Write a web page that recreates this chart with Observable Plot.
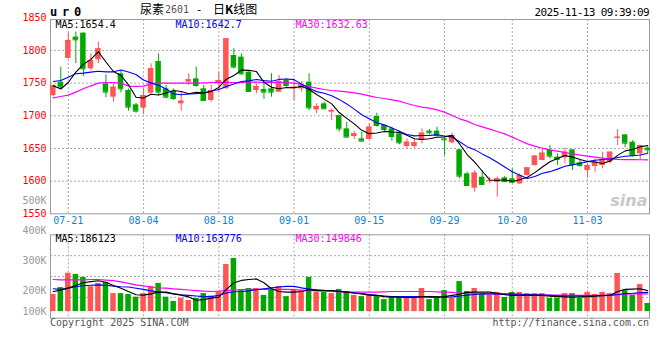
<!DOCTYPE html>
<html><head><meta charset="utf-8">
<script src="https://cdn.jsdelivr.net/npm/d3@7"></script>
<script src="https://cdn.jsdelivr.net/npm/@observablehq/plot@0.6"></script>
<style>
body{margin:0;background:#fff;}
#wrap{position:relative;width:660px;height:360px;overflow:hidden;background:#fff;font-family:"DejaVu Sans Mono",monospace;color:#000;}
.abs{position:absolute;white-space:nowrap;line-height:1;}
</style></head><body>
<div id="wrap">
  <div id="main" class="abs" style="left:0;top:0"></div>
  <div id="vol" class="abs" style="left:0;top:190px"></div>
  <div class="abs" style="left:50px;top:5.5px;font-weight:bold;font-size:12px;letter-spacing:4.8px">ur0</div>
  <div class="abs" style="left:140px;top:3px;font-family:'Noto Sans CJK SC';font-size:12px">尿素</div>
  <div class="abs" style="left:165px;top:5px;font-size:10px;color:#555">2601</div>
  <div class="abs" style="left:197px;top:3px;font-family:'Noto Sans CJK SC';font-size:12px">-</div>
  <div class="abs" style="left:213px;top:3px;font-family:'Noto Sans CJK SC';font-size:12px">日<b>K</b>线图</div>
  <div class="abs" style="right:11px;top:6.5px;font-size:11px;letter-spacing:-0.6px">2025-11-13 09:39:09</div>
  <div class="abs" style="left:50px;top:318px;font-size:10px;color:#555">Copyright 2025 SINA.COM</div>
  <div class="abs" style="right:11px;top:318px;font-size:10px;color:#555">http://finance.sina.com.cn</div>
</div>
<script>
// ---- data ----
const dates = ["07-17","07-18","07-21","07-22","07-23","07-24","07-25","07-28","07-29","07-30","07-31","08-01",
"08-04","08-05","08-06","08-07","08-08","08-11","08-12","08-13","08-14","08-15","08-18","08-19","08-20","08-21","08-22",
"08-25","08-26","08-27","08-28","08-29","09-01","09-02","09-03","09-04","09-05","09-08","09-09","09-10","09-11","09-12",
"09-15","09-16","09-17","09-18","09-19","09-22","09-23","09-24","09-25","09-26","09-29","09-30","10-09","10-10",
"10-13","10-14","10-15","10-16","10-17","10-20","10-21","10-22","10-23","10-24","10-27","10-28","10-29","10-30","10-31",
"11-03","11-04","11-05","11-06","11-07","11-10","11-11","11-12","11-13"];
const dateTicks = ["07-21","08-04","08-18","09-01","09-15","09-29","10-20","11-03"];
const open = [1731.1,1751.5,1787.7,1820.4,1826.5,1771.9,1785.7,1748.9,1728.5,1764.3,
1738.7,1716.8,1711.7,1734.7,1783.1,1741.3,1737.7,1718.3,1751.5,1756.6,
1741.3,1723.4,1748.9,1741.3,1792.3,1789.8,1766.8,1738.7,1740.3,1741.3,
1736.2,1754,1741.3,1741.3,1751.5,1709.1,1718.3,1705.6,1700.4,1680,
1668.3,1664.7,1663.7,1698.9,1685.1,1680,1672.4,1653,1653,1662.2,
1676.5,1676.5,1664.7,1658.6,1647.9,1611.1,1589.2,1606,1599.9,1598.4,
1605,1603.5,1595.8,1608.6,1623.9,1631.6,1646.9,1636.7,1635.6,1647.9,
1628,1616.2,1622.4,1623.9,1629,1665.7,1670.8,1659.6,1641.8,1650.4];
const high = [1747,1774.5,1826.5,1828,1827,1794.9,1812.7,1762.7,1749,1769.4,
1741,1719.4,1741.3,1779.6,1794.9,1746.4,1741.3,1736.2,1764.3,1774.5,
1746.4,1746.4,1766.8,1818,1802.5,1794.9,1769.4,1748.9,1754,1764.3,
1761.7,1756.6,1756.6,1752.5,1764.3,1718.3,1720.9,1710.7,1701,1690.2,
1676,1674.9,1687.7,1704,1685.1,1682.6,1676.5,1664.7,1664.7,1680,
1679,1682.6,1666,1673.4,1648,1613.7,1616.2,1616.2,1606,1606,
1607.1,1618.8,1611.1,1621,1639,1649.4,1654.5,1641.8,1651,1648,
1631.6,1626.5,1634.1,1644.3,1644.5,1679,1671,1662.2,1655,1652];
const low = [1729,1742,1787,1779.6,1760,1769,1780,1727.5,1721,1735,
1707,1704,1702,1733,1731,1726,1723.4,1707.1,1746.4,1743.8,
1723,1720.9,1736.2,1741,1771.9,1761.7,1736.2,1733.6,1725,1728.5,
1736,1743.8,1723.4,1736.2,1708.1,1703,1710,1692.8,1674.9,1667,
1663.7,1659.6,1663.7,1682.6,1674.9,1661.2,1655.5,1649.4,1650.4,1657,
1671.4,1667.3,1639.2,1657,1603.5,1591.8,1583.1,1593.3,1595.8,1575.4,
1598.4,1596.9,1594.8,1608,1623,1631,1634.1,1623.9,1626.5,1616.2,
1621.3,1604.5,1613.7,1618.8,1626.5,1654.5,1651,1636.7,1631.6,1641.8];
const close = [1746.4,1743.8,1815.3,1816.3,1771.9,1784.7,1802.5,1736.2,1743.8,1741.3,
1713.2,1707.1,1731.1,1771.9,1736.2,1728.5,1726.5,1722.4,1755.1,1746.4,
1723.4,1738.7,1754,1817.8,1774.5,1764.3,1737.2,1744.9,1736.2,1736.2,
1752.5,1746.4,1743.8,1746.4,1712.2,1714.2,1710.7,1708.1,1680,1667.3,
1672.4,1661.2,1682.6,1685.1,1679,1668.3,1658.6,1659.6,1658.6,1673.4,
1673.9,1669.8,1663.2,1669.8,1607.6,1593.3,1612.2,1594.8,1600.9,1603.5,
1599.4,1598.4,1608.6,1620.3,1638.2,1642.8,1638.2,1633.1,1644.3,1625.4,
1623.9,1623.9,1629,1632.6,1644.3,1667.3,1658.1,1639.2,1654.5,1647.9];
const ma5 = [1746,1741,1751,1767,1778.7,1786.4,1798.1,1782.3,1767.8,1761.7,
1747.4,1728.3,1727.3,1732.9,1731.9,1735.0,1738.8,1737.1,1733.7,1735.8,
1734.8,1737.2,1743.5,1756.1,1761.7,1769.9,1769.6,1767.7,1751.4,1743.8,
1741.4,1743.2,1743.0,1745.1,1740.3,1732.6,1725.5,1718.3,1705.0,1696.1,
1687.7,1677.8,1672.7,1673.7,1676.1,1675.2,1674.7,1670.1,1664.8,1663.7,
1664.8,1667.1,1667.8,1670.0,1656.9,1640.7,1629.2,1615.5,1601.8,1600.9,
1602.2,1599.4,1602.2,1606.0,1613.0,1621.7,1629.6,1634.5,1639.3,1636.8,
1633.0,1630.1,1629.3,1627.0,1630.7,1639.4,1646.3,1648.3,1652.7,1654.4];
const ma10 = [1752.5,1754,1759.1,1764.3,1765.3,1766.8,1768.3,1767.3,1767.3,1770.2,
1766.9,1763.2,1754.8,1750.4,1746.8,1741.2,1733.6,1732.2,1733.3,1733.9,
1734.9,1738.0,1740.3,1744.9,1748.8,1752.4,1753.4,1755.6,1753.8,1752.8,
1755.7,1756.4,1755.4,1748.3,1742.1,1737.0,1734.4,1730.7,1725.1,1718.2,
1710.2,1701.7,1695.5,1689.4,1686.1,1681.5,1676.3,1671.4,1669.3,1669.9,
1670.0,1670.9,1669.0,1667.4,1660.3,1652.8,1648.2,1641.7,1635.9,1628.9,
1621.5,1614.3,1608.9,1603.9,1607.0,1612.0,1614.5,1618.4,1622.7,1624.9,
1627.4,1629.9,1631.9,1633.2,1633.8,1636.2,1638.2,1638.8,1639.9,1642.7];
const ma30 = [1727.5,1729.5,1731.6,1736.2,1741.3,1745.9,1750,1751,1751,1750,
1745.4,1744.9,1745.4,1748.9,1750,1750,1750,1750,1750,1750,
1750.5,1751,1751.5,1751,1751,1751,1751.5,1751.5,1751,1751,
1751,1751,1750,1747.9,1744.9,1742.3,1740.3,1738.7,1737.7,1736.7,
1735.2,1733.1,1730.6,1728,1726.5,1724.4,1722.4,1718.8,1715.8,1713.2,
1711.7,1709.1,1705.6,1700.5,1695.4,1691.8,1686.7,1683,1679.5,1676,
1672.4,1667.3,1662.2,1657.1,1653.5,1650.4,1647.9,1645.8,1643.8,1641.8,
1639.7,1638.2,1636.7,1635.1,1634.1,1633.4,1633,1632.8,1632.7,1632.63];
// volume in thousands (K)
const volume = [189,212,260,256,246,215,226,229,192,192,
189,180,192,216,226,180,166,176,169,176,
192,184,197,289,309,202,209,209,186,206,
216,182,206,202,246,196,196,192,206,196,
186,182,189,186,172,182,179,179,179,209,
172,182,202,176,232,199,209,192,186,196,
179,196,196,192,192,192,176,176,192,192,
176,196,189,196,192,259,202,186,222,159];
const volMa5 = [199,203.5,211,219,228,232,235,230,219,210,
199,188,187,191,197,197,191,187,181,170,
172,177,180,206,228,236,239,241,228,208,
199,197,197,199,205,202,202,202,199,197,
193,191,187,186,182,181,180,179,179,182,
182,181,182,186,190,196,197,197,197,193,
188,186,186,186,186,186,183,182,181,180,
181,182,183,185,186,199,206,207,208,202];
const volMa10 = [208,206,210,215,218,220,221,220,217,215,
214,210,206,201,197,195,191,188,186,184,
182,182,186,194,198,199,201,205,208,211,
214,216,216,211,207,205,203,202,200,198,
195,192,189,186,184,182,182,182,182,181,
180,180,180,181,184,187,189,191,191,191,
191,191,190,189,188,187,186,185,184,184,
184,184,185,186,187,189,192,193,195,196];
const volMa30 = [239,238,238,238,238,239,239,237,235,231,
226,221,218,214,211,210,208,206,204,202,
200,199,200,202,204,205,206,206,206,206,
206,206,205,204,202,202,201,199,198,197,
197,197,197,197,198,199,199,199,199,199,
199,198,197,196,194,192,191,191,191,190,
189,189,189,188,188,188,187,187,187,187,
186,186,186,186,186,188,190,191,191,191];
const priceTicks = [1550,1600,1650,1700,1750,1800,1850];
const priceGrid = [1600,1650,1700,1750,1800];
const volTicks = [100,200,300,400,500];
const volDomain = [110,388];
const volBase = 132;
const priceLegend = ["MA5:1654.4","MA10:1642.7","MA30:1632.63"];
const volLegend = ["MA5:186123","MA10:163776","MA30:149846"];
const lineColors = ["#000000","#0000ff","#ff00ff"];

// ---- build ----
const RED = "#ff5555", GREEN = "#00a800", GRID = "#aaaaaa", FRAME = "#999999";
const rows = dates.map((d,i)=>({date:d, open:open[i], high:high[i], low:low[i], close:close[i],
  up: close[i] >= open[i], vol: volume[i], ma5: ma5[i], ma10: ma10[i], ma30: ma30[i],
  vma5: volMa5[i], vma10: volMa10[i], vma30: volMa30[i]}));
const ups = rows.filter(r=>r.up), downs = rows.filter(r=>!r.up);
const xScale = {type:"band", domain:dates, range:[49,651], paddingInner:0.27, paddingOuter:0.135, axis:null};
const baseStyle = {fontFamily:"DejaVu Sans Mono", fontSize:"10px", background:"transparent", overflow:"visible"};
const legendOffsets = [5,125,245];

const mainPlot = Plot.plot({
  width:660, height:230, marginTop:19, marginBottom:16.7, marginLeft:50, marginRight:11,
  style: baseStyle,
  x: xScale,
  y: {domain:[1550,1850], range:[213.3,17.3], axis:null},
  marks: [
    Plot.ruleY(priceGrid, {stroke:GRID, strokeDasharray:"2,2"}),
    Plot.ruleX(dateTicks, {stroke:GRID, strokeDasharray:"2,2"}),
    Plot.frame({stroke:FRAME}),
    Plot.axisY(priceTicks, {tickSize:0, tickPadding:4, color:"#ff0000", fontSize:10, label:null, tickFormat:d=>String(d)}),
    Plot.axisX(dateTicks, {tickSize:0, tickPadding:3, color:"#0a84d6", fontSize:10, label:null}),
    Plot.text(["sina"], {frameAnchor:"bottom-right", dx:-2, dy:-8, fill:"#c8c8c8", fontSize:16, fontWeight:"bold", fontStyle:"italic", fontFamily:"DejaVu Sans", textAnchor:"end"}),
    Plot.ruleX(ups, {x:"date", y1:"low", y2:"high", stroke:RED}),
    Plot.ruleX(downs, {x:"date", y1:"low", y2:"high", stroke:GREEN}),
    Plot.barY(ups, {x:"date", y1:"open", y2:"close", fill:RED}),
    Plot.barY(downs, {x:"date", y1:"open", y2:"close", fill:GREEN}),
    Plot.tickY(ups, {x:"date", y:"close", stroke:RED}),
    Plot.tickY(downs, {x:"date", y:"close", stroke:GREEN}),
    Plot.line(rows, {x:"date", y:"ma30", stroke:lineColors[2], strokeWidth:1.2}),
    Plot.line(rows, {x:"date", y:"ma10", stroke:lineColors[1], strokeWidth:1.1}),
    Plot.line(rows, {x:"date", y:"ma5", stroke:lineColors[0], strokeWidth:1.1}),
    ...priceLegend.map((t,k)=>Plot.text([t], {frameAnchor:"top-left", dx:legendOffsets[k], dy:5.5, lineAnchor:"middle", fill:lineColors[k], fontSize:10})),
  ]
});
document.getElementById("main").appendChild(mainPlot);

const [vlo, vhi] = volDomain;
const volGrid = [1,2,3].map(k => vlo + k*(vhi - vlo)/4);
const volPlot = Plot.plot({
  width:660, height:170, marginTop:44.3, marginBottom:42.3, marginLeft:50, marginRight:11,
  style: baseStyle,
  x: xScale,
  y: {domain:volDomain, axis:null},
  marks: [
    Plot.ruleY(volGrid, {stroke:GRID, strokeDasharray:"2,2"}),
    Plot.ruleX(dateTicks, {stroke:GRID, strokeDasharray:"2,2"}),
    Plot.frame({stroke:FRAME}),
    Plot.text(volTicks, {frameAnchor:"left", y:d=>Math.max(d, volBase), text:d=>d+"K", dx:-4, textAnchor:"end", fill:"#999999", fontSize:10}),
    Plot.barY(ups, {x:"date", y1:()=>volBase, y2:"vol", fill:RED}),
    Plot.barY(downs, {x:"date", y1:()=>volBase, y2:"vol", fill:GREEN}),
    Plot.line(rows, {x:"date", y:"vma30", stroke:lineColors[2], strokeWidth:1.2}),
    Plot.line(rows, {x:"date", y:"vma10", stroke:lineColors[1], strokeWidth:1.1}),
    Plot.line(rows, {x:"date", y:"vma5", stroke:lineColors[0], strokeWidth:1.1}),
    ...volLegend.map((t,k)=>Plot.text([t], {frameAnchor:"top-left", dx:legendOffsets[k], dy:4, lineAnchor:"middle", fill:lineColors[k], fontSize:10})),
  ]
});
document.getElementById("vol").appendChild(volPlot);
</script>
</body></html>
